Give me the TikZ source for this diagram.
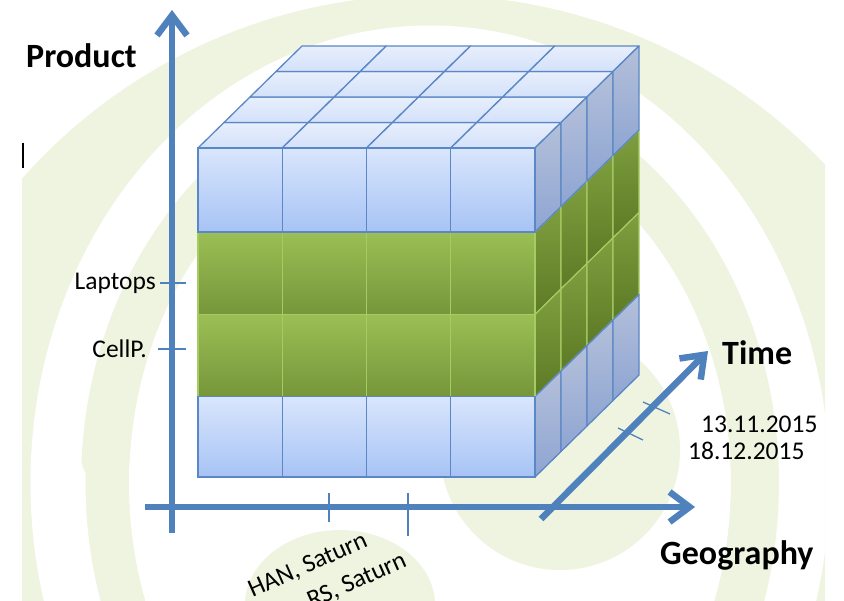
\documentclass[tikz,border=0pt]{standalone}
\usepackage{fontspec}
\setmainfont{Carlito}
\usetikzlibrary{arrows.meta}
\definecolor{axisblue}{HTML}{4F81BD}
\definecolor{edgeblue}{HTML}{5B87C6}
\definecolor{edgegreen}{HTML}{A6CB63}
\definecolor{pale}{HTML}{EFF4E1}
\tikzset{
  axisline/.style={draw=axisblue, line width=6.5pt, -{Straight Barb[length=20pt,width=30pt]}},
  tickline/.style={draw=axisblue, line width=1.3pt},
  topcell/.style={draw=edgeblue, line width=1.3pt, line join=round, top color={rgb,255:red,232;green,239;blue,252}, bottom color={rgb,255:red,211;green,225;blue,250}},
  sideblue/.style={draw=edgeblue, line width=1.3pt, line join=round, top color={rgb,255:red,180;green,192;blue,218}, bottom color={rgb,255:red,142;green,165;blue,210}},
  sidegreen/.style={draw=edgegreen, line width=1.2pt, line join=round, top color={rgb,255:red,126;green,159;blue,63}, bottom color={rgb,255:red,93;green,122;blue,37}},
  frontblue/.style={draw=edgeblue, line width=1.3pt, top color={rgb,255:red,217;green,230;blue,252}, bottom color={rgb,255:red,167;green,195;blue,245}},
  frontgreen/.style={draw=edgegreen, line width=1.2pt, top color={rgb,255:red,155;green,191;blue,85}, bottom color={rgb,255:red,118;green,150;blue,58}},
  lbl/.style={inner sep=0pt, font=\fontsize{25.5}{30}\selectfont},
  axlbl/.style={inner sep=0pt, font=\fontsize{34}{40}\selectfont\bfseries},
}
\begin{document}
\begin{tikzpicture}[x=1pt,y=-1pt]
\useasboundingbox (0,0) rectangle (844,601);
\fill[white] (0,0) rectangle (844,601);
% faint background logo
\begin{scope}
\clip (22,0) rectangle (825,601);
\fill[pale] (430,540) circle[radius=545];
\draw[white, line width=55pt] (430,483) ellipse[x radius=372, y radius=430];
\fill[white] (430,483) ellipse[x radius=301, y radius=361];
\draw[pale, line width=48pt, line cap=round] (105.6,459.5) arc[start angle=-176.5, end angle=30, x radius=325, y radius=385];
\fill[pale] (560,450) circle[radius=120];
\fill[pale] (340,605) ellipse[x radius=95, y radius=75];
\end{scope}
\coordinate (cur1) at (23,143);
\coordinate (cur2) at (23,168);
\draw[black, line width=1.5pt] (cur1) -- (cur2);
% cube: top face
\def\cw{84.25}
\foreach \k in {0,...,3}{
  \foreach \i in {0,...,3}{
    \draw[topcell] ({198+\cw*\i+26*\k},{148-25.5*\k}) -- ++(\cw,0) -- ++(26,-25.5) -- ++(-\cw,0) -- cycle;
  }
}
% side face
\foreach \k in {0,...,3}{
  \foreach \ya/\yb/\st in {232/314.5/sidegreen, 314.5/396.5/sidegreen, 148/232/sideblue, 396.5/477/sideblue}{
    \draw[\st] ({535+26*\k},{\ya-25.5*\k}) -- ++(26,-25.5) -- ++(0,{\yb-\ya}) -- ++(-26,25.5) -- cycle;
  }
}
% front face
\foreach \i in {0,...,3}{
  \foreach \ya/\yb/\st in {232/314.5/frontgreen, 314.5/396.5/frontgreen, 148/232/frontblue, 396.5/477/frontblue}{
    \draw[\st] ({198+\cw*\i},\ya) rectangle ++(\cw,{\yb-\ya});
  }
}
% axes
\coordinate (pbot) at (172,533);
\coordinate (ptop) at (172,10);
\coordinate (gleft) at (145,507);
\coordinate (gright) at (695,507);
\coordinate (tlow) at (541,519);
\coordinate (thigh) at (708,351);
\draw[axisline] (pbot) -- (ptop);
\draw[axisline] (gleft) -- (gright);
\draw[axisline] (tlow) -- (thigh);
% ticks
\coordinate (tl1) at (160,283); \coordinate (tl2) at (186,283);
\coordinate (tc1) at (158,349); \coordinate (tc2) at (186,349);
\coordinate (tg1) at (329,493); \coordinate (tg2) at (329,522);
\coordinate (tg3) at (408,493); \coordinate (tg4) at (408,536);
\coordinate (tt1) at (643,402); \coordinate (tt2) at (670,414);
\coordinate (tt3) at (618,428); \coordinate (tt4) at (643,440);
\draw[tickline] (tl1) -- (tl2);
\draw[tickline] (tc1) -- (tc2);
\draw[tickline] (tg1) -- (tg2);
\draw[tickline] (tg3) -- (tg4);
\draw[tickline] (tt1) -- (tt2);
\draw[tickline] (tt3) -- (tt4);
% labels
\node[axlbl, anchor=base west] (product) at (26,68) {Product};
\node[axlbl, anchor=base west] (time) at (722,365) {Time};
\node[axlbl, anchor=base west] (geo) at (660,565) {Geography};
\node[lbl, anchor=base east] (laptops) at (156,290) {Laptops};
\node[lbl, anchor=base east] (cellp) at (147,358) {CellP.};
\node[lbl, anchor=base west] (d1) at (701,433) {13.11.2015};
\node[lbl, anchor=base west] (d2) at (688,460) {18.12.2015};
\begin{scope}
\clip (0,0) rectangle (844,601);
\node[lbl, anchor=base east, rotate=24] (han) at (369,546) {HAN, Saturn};
\node[lbl, anchor=base east, rotate=24] (rs) at (408,566) {RS, Saturn};
\end{scope}
\end{tikzpicture}
\end{document}
